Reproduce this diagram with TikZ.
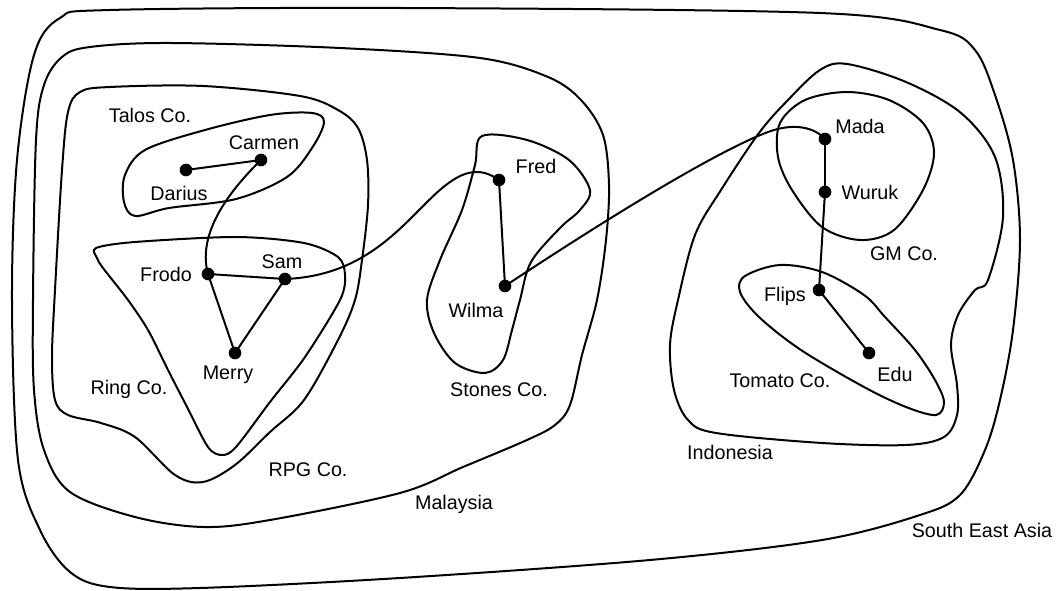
\documentclass[tikz,border=0pt]{standalone}
\usepackage{fontspec}
\setmainfont{Liberation Sans}
\begin{document}
\begin{tikzpicture}[x=0.75pt,y=-0.75pt,
  region/.style={line width=1.5pt, line join=round},
  link/.style={line width=1.5pt},
  member/.style={circle, fill=black, inner sep=0pt, minimum size=9.5pt},
  tag/.style={font=\fontsize{14.8}{17}\selectfont, inner sep=0pt, anchor=base}]
\useasboundingbox (0,0) rectangle (1058,591);

% South East Asia
\draw[region] plot[smooth cycle, tension=0.55] coordinates {
  (12,300) (17,160) (34,55) (60,18) (110,10) (400,8) (820,13) (940,30)
  (975,50) (995,95) (1013,160) (1020,240) (1013,330) (1000,400) (985,450)
  (960,495) (920,515) (822,540) (650,560) (400,578) (200,588) (110,587)
  (70,572) (40,530) (18,460)};

% Malaysia
\draw[region] plot[smooth cycle, tension=0.55] coordinates {
  (33,300) (36,140) (44,85) (62,57) (90,47) (170,43) (340,48) (480,58)
  (548,77) (581,100) (603,135) (609,185) (606,240) (597,300) (582,355)
  (570,405) (555,425) (527,440) (463,467) (400,493) (270,520) (203,527)
  (135,517) (70,492) (44,450) (34,390)};

% RPG Co.
\draw[region] plot[smooth cycle, tension=0.55] coordinates {
  (55,290) (62,170) (68,112) (80,92) (110,87) (203,86) (300,96) (338,110)
  (358,128) (367,160) (368,205) (362,260) (355,300) (338,340) (304,400)
  (270,432) (235,465) (203,482) (175,475) (135,437) (101,423) (68,415)
  (55,400) (52,357)};

% Talos Co.
\draw[region] plot[smooth cycle, tension=0.55] coordinates {
  (324,122) (312,113) (270,115) (205,130) (145,150) (125,175) (124,202)
  (135,216) (169,208) (236,199) (287,177) (312,148)};

% Ring Co.
\draw[region] plot[smooth cycle, tension=0.5] coordinates {
  (97,258) (96,248) (135,242) (236,237) (304,243) (338,257) (345,275)
  (340,300) (305,357) (270,402) (236,447) (222,455) (208,447) (186,405)
  (168,370) (148,330) (128,300) (103,268)};

% Stones Co.
\draw[region] plot[smooth cycle, tension=0.55] coordinates {
  (482,136) (527,140) (569,160) (590,190) (580,210) (560,228) (531,262)
  (520,300) (512,330) (503,360) (485,373) (455,363) (434,333) (427,300)
  (440,260) (462,210) (475,165)};

% Indonesia
\draw[region] plot[smooth cycle, tension=0.55] coordinates {
  (847,64) (820,70) (788,100) (759,133) (721,190) (695,235) (678,300)
  (670,345) (674,390) (688,420) (716,433) (822,443) (906,445) (944,437)
  (957,415) (957,385) (951,345) (958,315) (975,290) (988,280) (1003,217)
  (995,157) (961,113) (906,82)};

% GM Co.
\draw[region] plot[smooth cycle, tension=0.55] coordinates {
  (847,92) (805,100) (780,123) (778,157) (792,190) (822,227) (860,240)
  (894,230) (923,190) (934,153) (923,123) (889,100)};

% Tomato Co.
\draw[region] plot[smooth cycle, tension=0.55] coordinates {
  (780,265) (745,276) (740,292) (759,317) (801,350) (864,387) (906,407)
  (936,415) (944,402) (935,380) (915,350) (885,317) (864,295) (822,272)};

% people
\node[member] (darius) at (186,170) {};
\node[member] (carmen) at (261,160) {};
\node[member] (frodo)  at (208,274) {};
\node[member] (sam)    at (285,279) {};
\node[member] (merry)  at (235,353) {};
\node[member] (fred)   at (499,180) {};
\node[member] (wilma)  at (505,286) {};
\node[member] (mada)   at (825,139) {};
\node[member] (wuruk)  at (825,192) {};
\node[member] (flips)  at (819,290) {};
\node[member] (edu)    at (869,353) {};

% relations
\draw[link] (darius.center) -- (carmen.center);
\draw[link] (carmen.center) .. controls (222,198) and (198,238) .. (frodo.center);
\draw[link] (frodo.center) -- (sam.center);
\draw[link] (frodo.center) -- (merry.center);
\draw[link] (sam.center) -- (merry.center);
\draw[link] (sam.center) .. controls (390,275) and (420,190) .. (465,174)
  .. controls (480,169) and (490,174) .. (fred.center);
\draw[link] (fred.center) -- (wilma.center);
\draw[link] (wilma.center) .. controls (620,210) and (720,150) .. (768,132)
  .. controls (795,122) and (815,128) .. (mada.center);
\draw[link] (mada.center) -- (wuruk.center);
\draw[link] (wuruk.center) -- (flips.center);
\draw[link] (flips.center) -- (edu.center);

% names
\node[tag] (tDarius) at (179,201) {Darius};
\node[tag] (tCarmen) at (264,150) {Carmen};
\node[tag] (tFrodo)  at (166,282) {Frodo};
\node[tag] (tSam)    at (282,269) {Sam};
\node[tag] (tMerry)  at (228,380) {Merry};
\node[tag] (tFred)   at (536,174) {Fred};
\node[tag] (tWilma)  at (476,318) {Wilma};
\node[tag] (tMada)   at (860,134) {Mada};
\node[tag] (tWuruk)  at (870,200) {Wuruk};
\node[tag] (tFlips)  at (785,302) {Flips};
\node[tag] (tEdu)    at (895,382) {Edu};

% group names
\node[tag] (lTalos)  at (150,123) {Talos Co.};
\node[tag] (lRing)   at (129,395) {Ring Co.};
\node[tag] (lRPG)    at (308,477) {RPG Co.};
\node[tag] (lMy)     at (454,510) {Malaysia};
\node[tag] (lStones) at (499,397) {Stones Co.};
\node[tag] (lGM)     at (904,261) {GM Co.};
\node[tag] (lTomato) at (780,388) {Tomato Co.};
\node[tag] (lId)     at (730,460) {Indonesia};
\node[tag] (lSEA)    at (982,538) {South East Asia};
\end{tikzpicture}
\end{document}
